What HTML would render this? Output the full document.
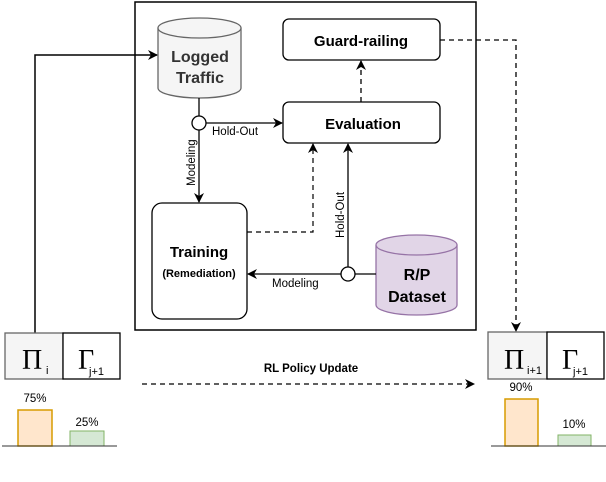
<!DOCTYPE html>
<html><head><style>body{margin:0;background:#fff}svg{display:block}text{font-family:"Liberation Sans",Arial,sans-serif}</style></head><body>
<svg width="606" height="482" viewBox="0 0 606 482" xmlns="http://www.w3.org/2000/svg">
<defs>
<marker id="a" markerWidth="10" markerHeight="10" refX="9" refY="5" orient="auto" markerUnits="userSpaceOnUse"><path d="M0,0 L10,5 L0,10 L3,5 Z" fill="#000"/></marker>
</defs>
<rect x="135" y="2" width="341" height="328" fill="#fff" stroke="#000" stroke-width="1.5"/>
<path d="M158,28 L158,88 A41.5,10 0 0 0 241,88 L241,28" fill="#f5f5f5" stroke="#666" stroke-width="1.3"/>
<ellipse cx="199.5" cy="28" rx="41.5" ry="10" fill="#f5f5f5" stroke="#666" stroke-width="1.3"/>
<text x="200" y="62" font-size="16" font-weight="bold" text-anchor="middle" fill="#333">Logged</text>
<text x="200" y="83" font-size="16" font-weight="bold" text-anchor="middle" fill="#333">Traffic</text>
<path d="M376,245 L376,305 A40.5,10 0 0 0 457,305 L457,245" fill="#e1d5e7" stroke="#9673a6" stroke-width="1.3"/>
<ellipse cx="416.5" cy="245" rx="40.5" ry="10" fill="#e1d5e7" stroke="#9673a6" stroke-width="1.3"/>
<text x="417" y="280" font-size="16" font-weight="bold" text-anchor="middle">R/P</text>
<text x="417" y="302" font-size="16" font-weight="bold" text-anchor="middle">Dataset</text>
<rect x="283" y="19" width="157" height="41" rx="6" fill="#fff" stroke="#000" stroke-width="1.3"/>
<text x="361" y="46" font-size="15" font-weight="bold" text-anchor="middle">Guard-railing</text>
<rect x="283" y="102" width="157" height="41" rx="6" fill="#fff" stroke="#000" stroke-width="1.3"/>
<text x="363" y="129" font-size="15" font-weight="bold" text-anchor="middle">Evaluation</text>
<rect x="152" y="203" width="95" height="116" rx="10" fill="#fff" stroke="#000" stroke-width="1.3"/>
<text x="199" y="257" font-size="15" font-weight="bold" text-anchor="middle">Training</text>
<text x="199" y="277" font-size="11" font-weight="bold" text-anchor="middle">(Remediation)</text>
<line x1="199" y1="98" x2="199" y2="116" stroke="#000" stroke-width="1.3"/>
<line x1="206" y1="123" x2="282" y2="123" stroke="#000" stroke-width="1.3" marker-end="url(#a)"/>
<line x1="199" y1="130" x2="199" y2="202" stroke="#000" stroke-width="1.3" marker-end="url(#a)"/>
<circle cx="199" cy="123" r="7" fill="#fff" stroke="#000" stroke-width="1.3"/>
<text x="212" y="135" font-size="11.5">Hold-Out</text>
<text transform="translate(195,186) rotate(-90)" font-size="11.5">Modeling</text>
<line x1="361" y1="102" x2="361" y2="61" stroke="#000" stroke-width="1.3" stroke-dasharray="5,4" marker-end="url(#a)"/>
<polyline points="247,232 313,232 313,144" fill="none" stroke="#000" stroke-width="1.2" stroke-dasharray="5,4" marker-end="url(#a)"/>
<line x1="376" y1="274" x2="355" y2="274" stroke="#000" stroke-width="1.3"/>
<line x1="348" y1="267" x2="348" y2="144" stroke="#000" stroke-width="1.3" marker-end="url(#a)"/>
<line x1="341" y1="274" x2="248" y2="274" stroke="#000" stroke-width="1.3" marker-end="url(#a)"/>
<circle cx="348" cy="274" r="7" fill="#fff" stroke="#000" stroke-width="1.3"/>
<text x="272" y="287" font-size="11.5">Modeling</text>
<text transform="translate(344,238) rotate(-90)" font-size="11.5">Hold-Out</text>
<polyline points="35,333 35,55 157,55" fill="none" stroke="#000" stroke-width="1.5" marker-end="url(#a)"/>
<polyline points="440,40 516,40 516,331" fill="none" stroke="#000" stroke-width="1.3" stroke-dasharray="5,4" marker-end="url(#a)"/>
<text x="311" y="372" font-size="11.5" font-weight="bold" text-anchor="middle">RL Policy Update</text>
<line x1="142" y1="384" x2="474" y2="384" stroke="#000" stroke-width="1.3" stroke-dasharray="5,4" marker-end="url(#a)"/>
<rect x="5" y="333" width="58" height="46" fill="#f5f5f5" stroke="#666" stroke-width="1.3"/>
<rect x="63" y="333" width="57" height="46" fill="#fff" stroke="#000" stroke-width="1.3"/>
<text x="22" y="369" font-size="28" style="font-family:'Liberation Serif',serif">Π</text><text x="46" y="374" font-size="11">i</text>
<text x="78" y="369" font-size="28" style="font-family:'Liberation Serif',serif">Γ</text><text x="89" y="375" font-size="11">j+1</text>
<rect x="488" y="332" width="59" height="47" fill="#f5f5f5" stroke="#666" stroke-width="1.3"/>
<rect x="547" y="332" width="57" height="47" fill="#fff" stroke="#000" stroke-width="1.3"/>
<text x="504" y="369" font-size="28" style="font-family:'Liberation Serif',serif">Π</text><text x="527" y="374" font-size="11">i+1</text>
<text x="562" y="369" font-size="28" style="font-family:'Liberation Serif',serif">Γ</text><text x="573" y="375" font-size="11">j+1</text>
<rect x="18" y="410" width="34" height="36" fill="#ffe6cc" stroke="#d79b00" stroke-width="1.5"/>
<rect x="70" y="431" width="34" height="15" fill="#d5e8d4" stroke="#82b366" stroke-width="1"/>
<line x1="2" y1="446" x2="117" y2="446" stroke="#333" stroke-width="1"/>
<text x="35" y="402" font-size="11.5" text-anchor="middle">75%</text>
<text x="87" y="426" font-size="11.5" text-anchor="middle">25%</text>
<rect x="505" y="399" width="33" height="47" fill="#ffe6cc" stroke="#d79b00" stroke-width="1.5"/>
<rect x="558" y="435" width="33" height="11" fill="#d5e8d4" stroke="#82b366" stroke-width="1"/>
<line x1="491" y1="446" x2="606" y2="446" stroke="#333" stroke-width="1"/>
<text x="521" y="391" font-size="11.5" text-anchor="middle">90%</text>
<text x="574" y="428" font-size="11.5" text-anchor="middle">10%</text>
</svg>
</body></html>
